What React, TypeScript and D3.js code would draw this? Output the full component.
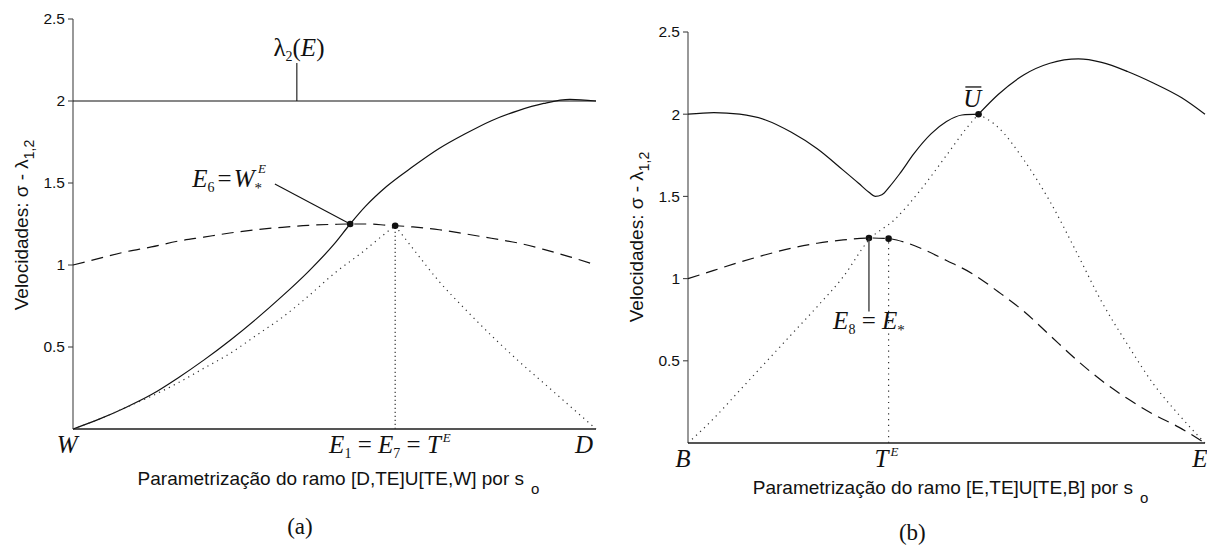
import React from "react";
import * as d3 from "d3";

// ---------- panel (a): branch [D,TE]U[TE,W] ----------
const sA = [0, 0.05, 0.1, 0.15, 0.2, 0.25, 0.3, 0.35, 0.4, 0.45, 0.5, 0.53, 0.56, 0.6, 0.65, 0.7, 0.75, 0.8, 0.85, 0.9, 0.95, 1];
const lambda1A = [0, 0.06, 0.13, 0.21, 0.31, 0.42, 0.54, 0.67, 0.81, 0.96, 1.13, 1.25, 1.36, 1.48, 1.6, 1.71, 1.8, 1.88, 1.94, 1.985, 2.01, 2.0];
const sigmaA = [1.0, 1.04, 1.08, 1.11, 1.145, 1.17, 1.195, 1.215, 1.23, 1.242, 1.248, 1.25, 1.25, 1.243, 1.232, 1.215, 1.19, 1.163, 1.135, 1.095, 1.05, 1.0];
const sLambda2A = [0, 1];
const lambda2A = [2, 2];
const sDotLeftA = [0, 0.05, 0.1, 0.15, 0.2, 0.25, 0.3, 0.35, 0.4, 0.45, 0.5, 0.55, 0.6, 0.616];
const dotLeftA = [0, 0.06, 0.13, 0.2, 0.28, 0.37, 0.46, 0.57, 0.68, 0.81, 0.95, 1.07, 1.2, 1.2395];
const sDotRightA = [0.616, 0.65, 0.7, 0.75, 0.8, 0.85, 0.9, 0.95, 1];
const dotRightA = [1.2395, 1.1, 0.9, 0.73, 0.57, 0.42, 0.28, 0.14, 0];
const pointE6 = [0.53, 1.25];
const pointE1 = [0.616, 1.2395];

// ---------- panel (b): branch [E,TE]U[TE,B] ----------
const sSolidB1 = [0, 0.05, 0.1, 0.15, 0.2, 0.25, 0.3, 0.33, 0.35, 0.362, 0.375, 0.39, 0.41, 0.437, 0.47, 0.5, 0.53, 0.562];
const solidB1 = [2.0, 2.01, 2.0, 1.965, 1.89, 1.79, 1.66, 1.58, 1.525, 1.5, 1.51, 1.56, 1.64, 1.76, 1.88, 1.955, 1.995, 2.0];
const sSolidB2 = [0.562, 0.6, 0.65, 0.7, 0.755, 0.8, 0.85, 0.9, 0.955, 1];
const solidB2 = [2.0, 2.12, 2.24, 2.31, 2.336, 2.315, 2.26, 2.19, 2.1, 2.0];
const sSigmaB = [0, 0.05, 0.1, 0.15, 0.2, 0.25, 0.3, 0.35, 0.388, 0.42, 0.45, 0.5, 0.55, 0.6, 0.65, 0.7, 0.75, 0.8, 0.85, 0.9, 0.95, 1];
const sigmaB = [1.0, 1.05, 1.1, 1.145, 1.185, 1.215, 1.235, 1.247, 1.243, 1.22, 1.185, 1.11, 1.03, 0.92, 0.8, 0.655, 0.51, 0.38, 0.27, 0.175, 0.095, 0];
const sDotLeftB = [0, 0.05, 0.1, 0.15, 0.2, 0.25, 0.3, 0.35, 0.4, 0.45, 0.5, 0.54, 0.562];
const dotLeftB = [0, 0.15, 0.32, 0.49, 0.66, 0.83, 1.01, 1.235, 1.36, 1.54, 1.75, 1.92, 2.0];
const sDotRightB = [0.562, 0.6, 0.65, 0.7, 0.75, 0.8, 0.85, 0.9, 0.95, 1];
const dotRightB = [2.0, 1.92, 1.72, 1.47, 1.17, 0.86, 0.6, 0.36, 0.17, 0];
const pointE8 = [0.35, 1.247];
const pointTE = [0.388, 1.243];
const pointUbar = [0.562, 2.0];

// ---------- shared axis text ----------
const yTicks = [0.5, 1, 1.5, 2, 2.5];
const yTickLabels = ["0.5", "1", "1.5", "2", "2.5"];
const yLabelMain = "Velocidades: σ -  λ";
const yLabelSub = "1,2";
const xLabelA = "Parametrização do ramo [D,TE]U[TE,W] por s";
const xLabelB = "Parametrização do ramo [E,TE]U[TE,B] por s";
const xLabelSub = "o";

const SANS = "'Liberation Sans', Arial, Helvetica, sans-serif";
const SERIF = "'Liberation Serif', 'Times New Roman', serif";
const INK = "#111";
const DASH = "12 7";
const DOT = "1.2 4.3";
const MATH = 25;
const SUB = 14;

const zip = (s: number[], v: number[]) => s.map((si, i) => [si, v[i]] as [number, number]);

type Frame = { x0: number; x1: number; y0: number; y1: number };

function makeScales(f: Frame) {
  const x = d3.scaleLinear().domain([0, 1]).range([f.x0, f.x1]);
  const y = d3.scaleLinear().domain([0, 2.5]).range([f.y0, f.y1]);
  const line = d3
    .line<[number, number]>()
    .x((d) => x(d[0]))
    .y((d) => y(d[1]))
    .curve(d3.curveMonotoneX);
  return { x, y, line };
}

function Axes({ f, y, xLabel, xLabelY, ylabelCenter }: any) {
  return (
    <g>
      <line x1={f.x0} x2={f.x0} y1={y(0)} y2={y(2.5)} stroke="#444" strokeWidth={1.1} />
      <line x1={f.x0} x2={f.x1} y1={y(0)} y2={y(0)} stroke="#555" strokeWidth={1.8} />
      {yTicks.map((t, i) => (
        <g key={t}>
          <line x1={f.x0 - 5} x2={f.x0} y1={y(t)} y2={y(t)} stroke="#444" strokeWidth={1.1} />
          <text
            x={f.x0 - 8}
            y={y(t)}
            dy="0.35em"
            textAnchor="end"
            fontFamily={SANS}
            fontSize={15.5}
            fill={INK}
          >
            {yTickLabels[i]}
          </text>
        </g>
      ))}
      <text
        transform={`translate(${f.x0 - 45},${ylabelCenter}) rotate(-90)`}
        textAnchor="middle"
        fontFamily={SANS}
        fontSize={19}
        fill={INK}
      >
        {yLabelMain}
        <tspan dy={6} fontSize={14}>
          {yLabelSub}
        </tspan>
      </text>
      <text
        x={(f.x0 + f.x1) / 2 + 4}
        y={xLabelY}
        textAnchor="middle"
        fontFamily={SANS}
        fontSize={19}
        fill={INK}
      >
        {xLabel}
        <tspan dx={7} dy={9} fontSize={15}>
          {xLabelSub}
        </tspan>
      </text>
    </g>
  );
}

function Dot({ p, x, y }: any) {
  return <circle cx={x(p[0])} cy={y(p[1])} r={3.3} fill={INK} />;
}

function PanelA() {
  const f: Frame = { x0: 73, x1: 596, y0: 429, y1: 19 };
  const { x, y, line } = makeScales(f);
  const base = y(0) + 24;
  return (
    <g>
      <Axes f={f} y={y} xLabel={xLabelA} xLabelY={485} ylabelCenter={225} />
      {/* lambda_2 level */}
      <path d={line(zip(sLambda2A, lambda2A)) || ""} fill="none" stroke={INK} strokeWidth={1.2} />
      {/* lambda_1 */}
      <path d={line(zip(sA, lambda1A)) || ""} fill="none" stroke={INK} strokeWidth={1.2} />
      {/* shock speed sigma */}
      <path d={line(zip(sA, sigmaA)) || ""} fill="none" stroke={INK} strokeWidth={1.2} strokeDasharray={DASH} />
      {/* dotted branches */}
      <path d={line(zip(sDotLeftA, dotLeftA)) || ""} fill="none" stroke="#333" strokeWidth={1.2} strokeDasharray={DOT} />
      <path d={line(zip(sDotRightA, dotRightA)) || ""} fill="none" stroke="#333" strokeWidth={1.2} strokeDasharray={DOT} />
      <line x1={x(pointE1[0])} x2={x(pointE1[0])} y1={y(0)} y2={y(pointE1[1])} stroke="#333" strokeWidth={1.2} strokeDasharray="1.2 2.8" />
      <Dot p={pointE6} x={x} y={y} />
      <Dot p={pointE1} x={x} y={y} />

      {/* annotations */}
      <line x1={x(0.428)} x2={x(0.428)} y1={y(2.232)} y2={y(2)} stroke={INK} strokeWidth={1.1} />
      <text x={x(0.432)} y={y(2.275)} textAnchor="middle" fontFamily={SERIF} fontSize={MATH} fill={INK}>
        λ<tspan fontSize={SUB} dy={5}>2</tspan>
        <tspan dy={-5}>(</tspan>
        <tspan fontStyle="italic">E</tspan>)
      </text>

      <line x1={x(0.386)} y1={y(1.494)} x2={x(pointE6[0])} y2={y(pointE6[1])} stroke={INK} strokeWidth={1.1} />
      <text x={x(0.228)} y={y(1.475)} fontFamily={SERIF} fontSize={MATH} fill={INK}>
        <tspan fontStyle="italic">E</tspan>
        <tspan fontSize={SUB} dy={5}>6</tspan>
        <tspan dy={-5} dx={3}>=</tspan>
        <tspan fontStyle="italic" dx={2}>W</tspan>
        <tspan fontSize={15} dy={6}>*</tspan>
        <tspan fontSize={13} fontStyle="italic" dx={-4} dy={-20}>E</tspan>
      </text>

      <text x={x(-0.011)} y={base} textAnchor="middle" fontFamily={SERIF} fontStyle="italic" fontSize={MATH} fill={INK}>
        W
      </text>
      <text x={x(0.606)} y={base} textAnchor="middle" fontFamily={SERIF} fontSize={MATH} fill={INK}>
        <tspan fontStyle="italic">E</tspan>
        <tspan fontSize={SUB} dy={5}>1</tspan>
        <tspan dy={-5}> = </tspan>
        <tspan fontStyle="italic">E</tspan>
        <tspan fontSize={SUB} dy={5}>7</tspan>
        <tspan dy={-5}> = </tspan>
        <tspan fontStyle="italic">T</tspan>
        <tspan fontSize={13} fontStyle="italic" dx={2} dy={-11}>E</tspan>
      </text>
      <text x={x(0.977)} y={base} textAnchor="middle" fontFamily={SERIF} fontStyle="italic" fontSize={MATH} fill={INK}>
        D
      </text>

      <text x={x(0.434)} y={534} textAnchor="middle" fontFamily={SERIF} fontSize={23} fill={INK}>
        (a)
      </text>
    </g>
  );
}

function PanelB() {
  const f: Frame = { x0: 688, x1: 1205, y0: 443, y1: 32 };
  const { x, y, line } = makeScales(f);
  const base = y(0) + 24;
  const ux = x(pointUbar[0] - 0.012);
  const uy = y(2.044);
  return (
    <g>
      <Axes f={f} y={y} xLabel={xLabelB} xLabelY={494} ylabelCenter={237} />
      {/* lambda_2 along the branch */}
      <path d={line(zip(sSolidB1, solidB1)) || ""} fill="none" stroke={INK} strokeWidth={1.2} />
      <path d={line(zip(sSolidB2, solidB2)) || ""} fill="none" stroke={INK} strokeWidth={1.2} />
      {/* shock speed sigma */}
      <path d={line(zip(sSigmaB, sigmaB)) || ""} fill="none" stroke={INK} strokeWidth={1.2} strokeDasharray={DASH} />
      {/* dotted branches */}
      <path d={line(zip(sDotLeftB, dotLeftB)) || ""} fill="none" stroke="#333" strokeWidth={1.2} strokeDasharray={DOT} />
      <path d={line(zip(sDotRightB, dotRightB)) || ""} fill="none" stroke="#333" strokeWidth={1.2} strokeDasharray={DOT} />
      <line x1={x(pointTE[0])} x2={x(pointTE[0])} y1={y(0)} y2={y(pointTE[1])} stroke="#333" strokeWidth={1.2} strokeDasharray="1.2 4.5" />
      <Dot p={pointE8} x={x} y={y} />
      <Dot p={pointTE} x={x} y={y} />
      <Dot p={pointUbar} x={x} y={y} />

      {/* annotations */}
      <text x={ux} y={uy} textAnchor="middle" fontFamily={SERIF} fontStyle="italic" fontSize={MATH} fill={INK}>
        U
      </text>
      <line x1={ux - 7} x2={ux + 9} y1={uy - 20} y2={uy - 20} stroke={INK} strokeWidth={1.3} />

      <line x1={x(pointE8[0])} x2={x(pointE8[0])} y1={y(pointE8[1])} y2={y(0.8)} stroke="#333" strokeWidth={1.3} />
      <text x={x(pointE8[0])} y={y(0.696)} textAnchor="middle" fontFamily={SERIF} fontSize={MATH} fill={INK}>
        <tspan fontStyle="italic">E</tspan>
        <tspan fontSize={SUB} dy={5}>8</tspan>
        <tspan dy={-5}> = </tspan>
        <tspan fontStyle="italic">E</tspan>
        <tspan fontSize={15} dy={6}>*</tspan>
      </text>

      <text x={x(-0.01)} y={base} textAnchor="middle" fontFamily={SERIF} fontStyle="italic" fontSize={MATH} fill={INK}>
        B
      </text>
      <text x={x(0.384)} y={base} textAnchor="middle" fontFamily={SERIF} fontSize={MATH} fill={INK}>
        <tspan fontStyle="italic">T</tspan>
        <tspan fontSize={13} fontStyle="italic" dx={2} dy={-11}>E</tspan>
      </text>
      <text x={x(0.99)} y={base} textAnchor="middle" fontFamily={SERIF} fontStyle="italic" fontSize={MATH} fill={INK}>
        E
      </text>

      <text x={x(0.434)} y={540} textAnchor="middle" fontFamily={SERIF} fontSize={23} fill={INK}>
        (b)
      </text>
    </g>
  );
}

export default function App() {
  return (
    <svg
      width={1207}
      height={547}
      viewBox="0 0 1207 547"
      style={{ position: "absolute", left: 0, top: 0, background: "#fff" }}
    >
      <rect width={1207} height={547} fill="#fff" />
      <PanelA />
      <PanelB />
    </svg>
  );
}
